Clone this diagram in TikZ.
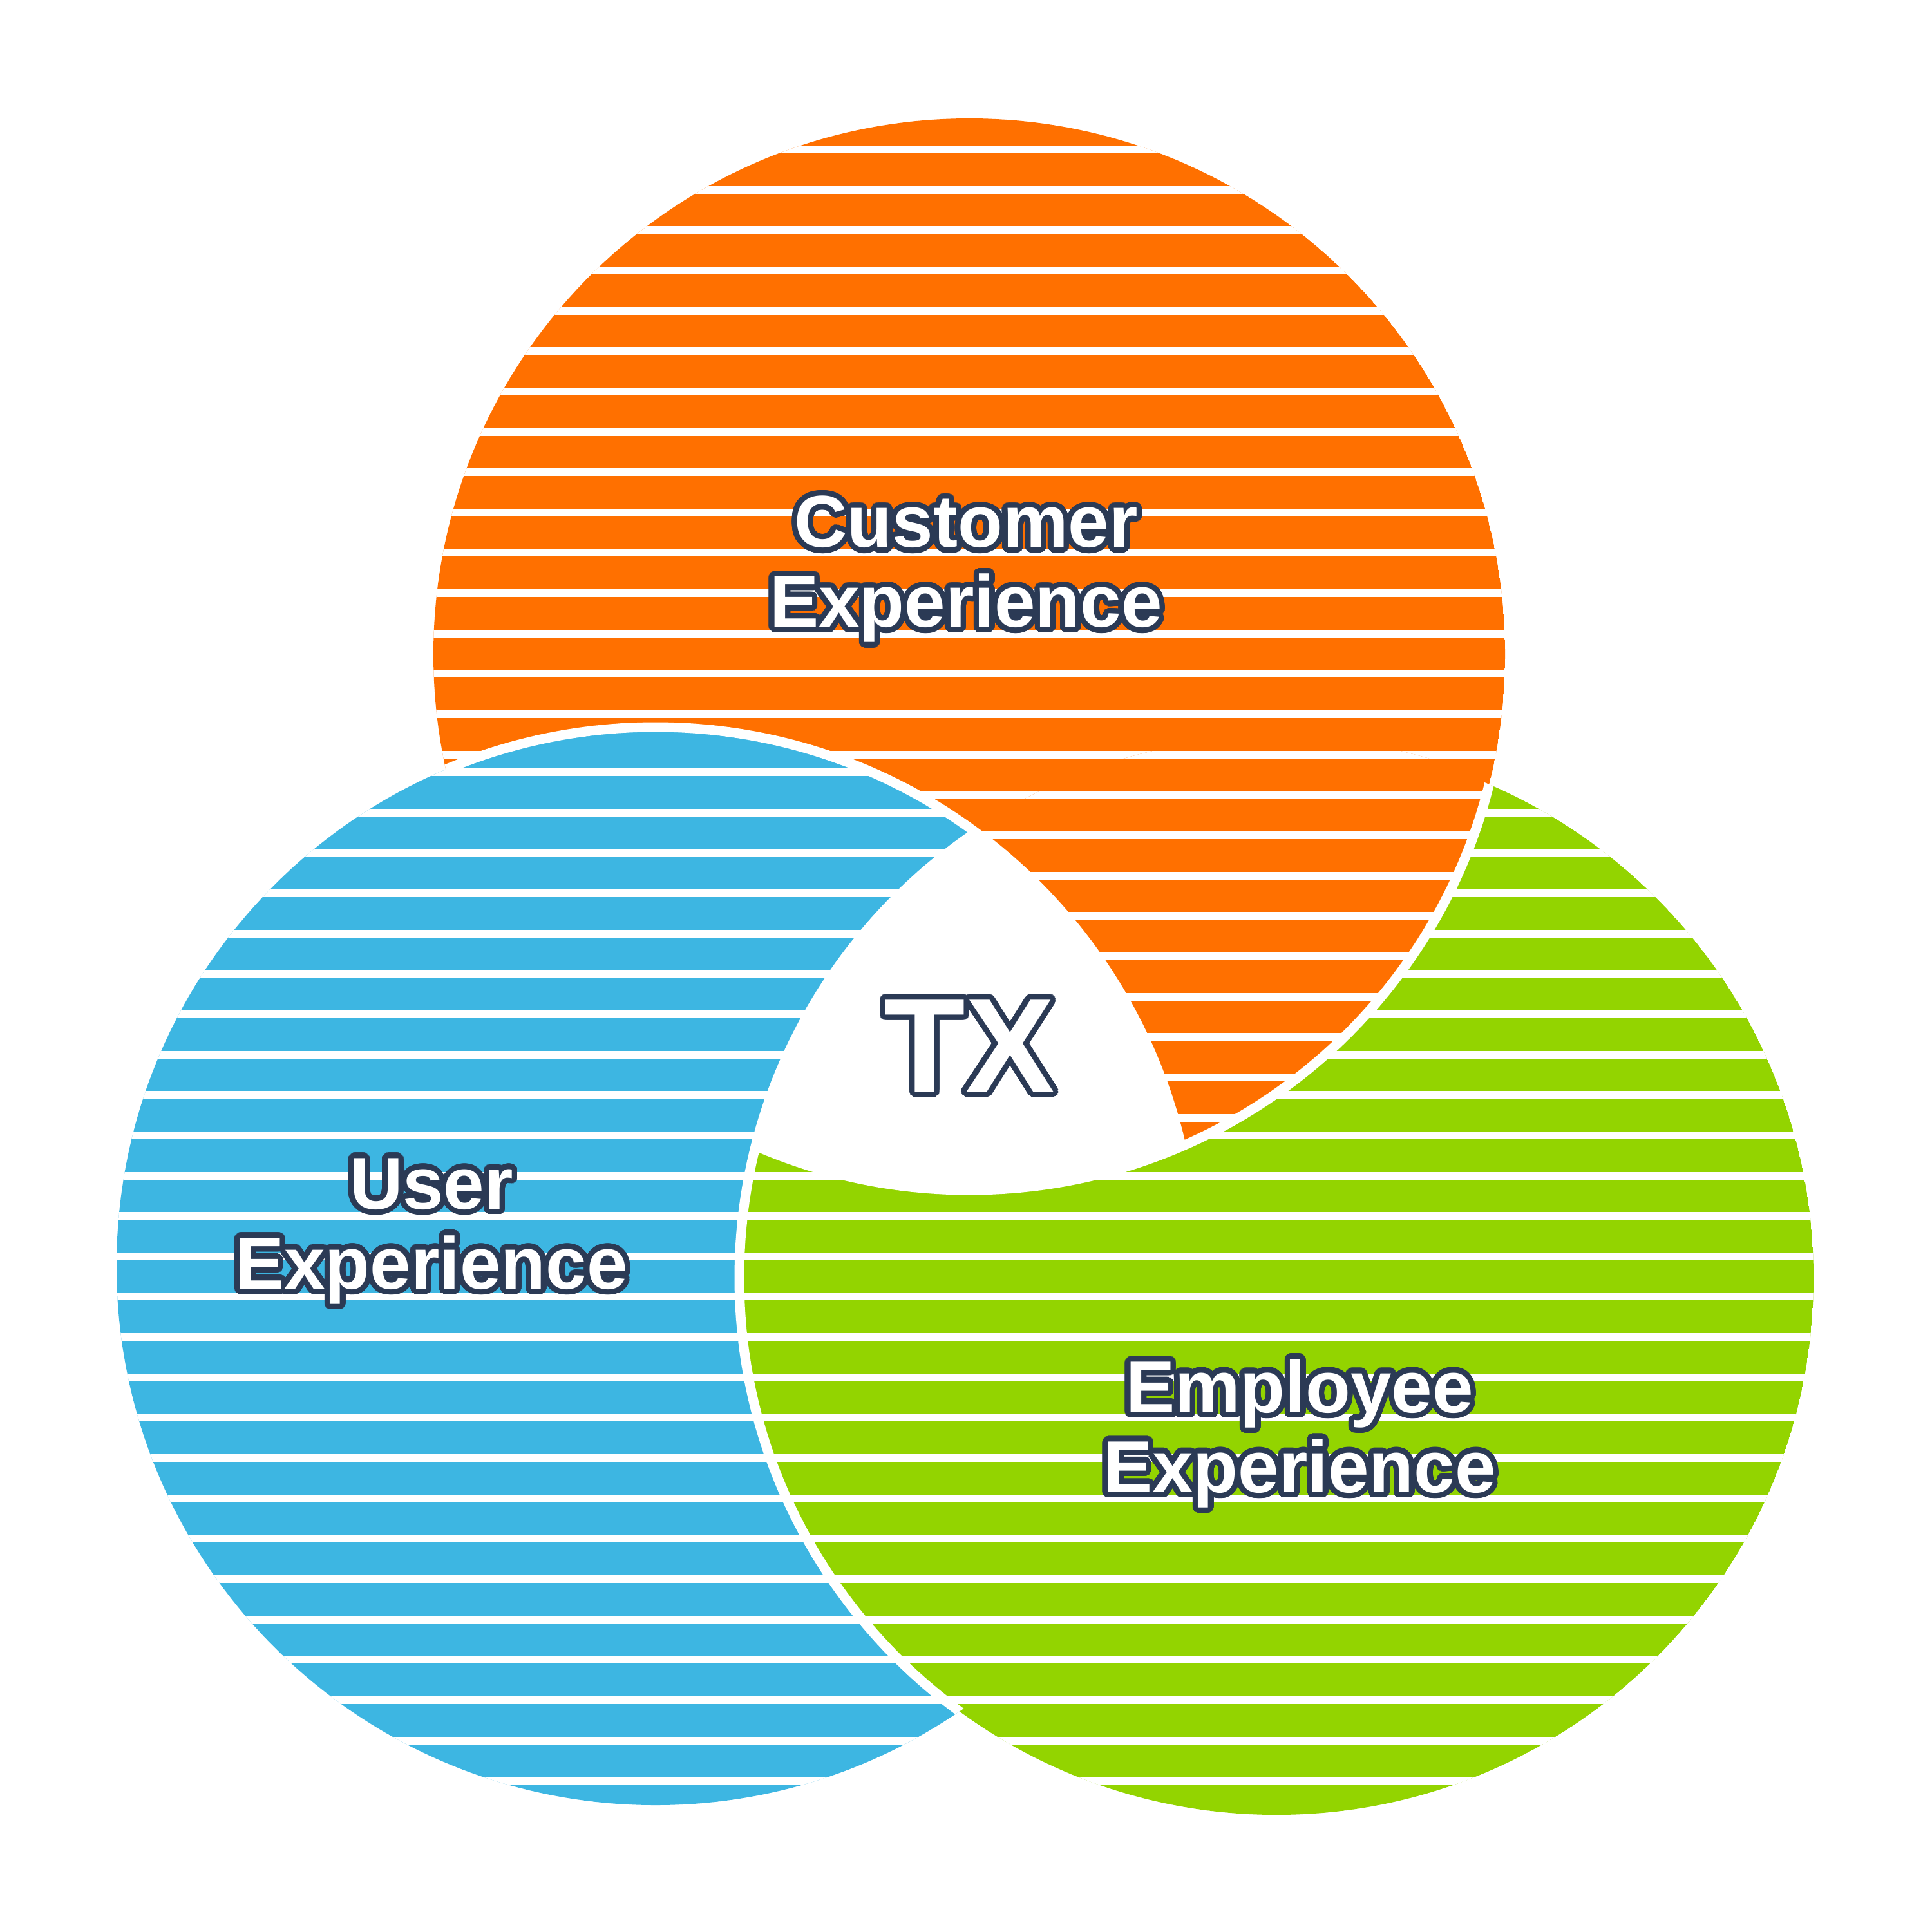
\documentclass[tikz,border=0pt]{standalone}
\usepackage{fontspec}
\setmainfont{Liberation Sans}
\usepackage[copies]{contour}
\contournumber{40}
\contourlength{2.4pt}
\definecolor{corange}{HTML}{FF7000}
\definecolor{cblue}{HTML}{3DB6E2}
\definecolor{cgreen}{HTML}{93D400}
\definecolor{cnavy}{HTML}{2B3A55}
\newcommand\stripedcircle[5]{%
  \begin{scope}
    \clip (#2,-#3) circle (#4);
    \fill[#1] (#2,-#3) circle (#4);
    \foreach \k in {0,...,27}{%
      \draw[stripe line] ({#2-#4},{-(#5+0.6265*\k)}) -- ({#2+#4},{-(#5+0.6265*\k)});
    }
  \end{scope}}
\begin{document}
\begin{tikzpicture}[
  stripe line/.style={white, line width=0.12cm},
  rim/.style={white, line width=0.15cm},
  label/.style={text=white, font=\bfseries\fontsize{32.5}{35.3}\selectfont, align=center, inner sep=0pt},
  biglabel/.style={text=white, font=\bfseries\fontsize{59}{64}\selectfont, inner sep=0pt}
]
\useasboundingbox (0,0) rectangle (30,-30);
\fill[white] (0,0) rectangle (30,-30);
% centres
\coordinate (O) at (15.05,-10.16);
\coordinate (B) at (10.18,-19.66);
\coordinate (G) at (19.82,-19.84);
% base layers
\stripedcircle{corange}{15.05}{10.16}{8.32}{2.32}
\stripedcircle{cblue}{10.18}{19.66}{8.37}{11.99}
\stripedcircle{cgreen}{19.82}{19.84}{8.34}{11.99}
% orange over green
\begin{scope}
  \clip (G) circle (8.40);
  \stripedcircle{corange}{15.05}{10.16}{8.32}{2.32}
\end{scope}
% triple intersection
\begin{scope}
  \clip (O) circle (8.32);
  \clip (B) circle (8.37);
  \fill[white] (G) circle (8.34);
\end{scope}
% visible rims
\begin{scope}
  \clip (O) circle (8.32);
  \draw[rim] (B) circle (8.37);
\end{scope}
\begin{scope}
  \clip (B) circle (8.37);
  \draw[rim] (G) circle (8.34);
\end{scope}
\begin{scope}
  \clip (G) circle (8.34);
  \draw[rim] (O) circle (8.32);
\end{scope}
% labels
\node[label] (cx) at (15.00,-8.88) {\contour{cnavy}{Customer}\\\contour{cnavy}{Experience}};
\node[label] (ux) at (6.70,-19.16) {\contour{cnavy}{User}\\\contour{cnavy}{Experience}};
\node[label] (ex) at (20.18,-22.30) {\contour{cnavy}{Employee}\\\contour{cnavy}{Experience}};
\node[biglabel] (tx) at (15.05,-16.28) {\contour{cnavy}{TX}};
\end{tikzpicture}
\end{document}
